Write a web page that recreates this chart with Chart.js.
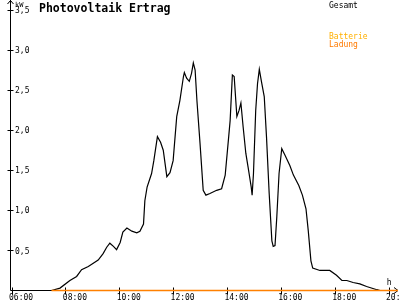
<!DOCTYPE html>
<html><head><meta charset="utf-8">
<script src="https://cdn.jsdelivr.net/npm/chart.js@4/dist/chart.umd.min.js"></script>
<style>html,body{margin:0;padding:0;background:#fff}#wrap{width:400px;height:300px}</style>
</head><body><div id="wrap"><canvas id="c" width="400" height="300"></canvas></div>
<script>
const title = "Photovoltaik Ertrag";
const unitLabel = "kW";
const xUnitLabel = "h";
const legendLabels = ["Gesamt", "Batterie", "Ladung"];
const xTickValues = ["06:00","08:00","10:00","12:00","14:00","16:00","18:00","20:00"];
const yTickValues = [0.5, 1.0, 1.5, 2.0, 2.5, 3.0, 3.5];
const yTickLabels = ["0,5","1,0","1,5","2,0","2,5","3,0","3,5"];

const gesamtTimes = ["07:28","07:47","08:09","08:24","08:35","08:50","09:12","09:23","09:31","09:38","09:46","09:53","10:01","10:07","10:16","10:27","10:38","10:45","10:53","10:56","11:01","11:11","11:16","11:24","11:31","11:37","11:45","11:52","11:59","12:07","12:14","12:22","12:24","12:29","12:35","12:40","12:44","12:48","12:52","12:59","13:06","13:12","13:21","13:36","13:47","13:55","14:02","14:06","14:11","14:15","14:21","14:26","14:30","14:35","14:41","14:46","14:53","14:55","14:58","15:03","15:07","15:11","15:16","15:22","15:27","15:33","15:39","15:42","15:46","15:50","15:55","16:01","16:08","16:19","16:27","16:39","16:47","16:55","17:00","17:06","17:10","17:26","17:48","18:03","18:15","18:26","18:40","18:55","19:10","19:33","19:40"];
const gesamtValues = [0,0.03,0.125,0.175,0.26,0.30,0.38,0.46,0.54,0.59,0.55,0.51,0.60,0.73,0.78,0.74,0.72,0.74,0.83,1.12,1.29,1.46,1.62,1.92,1.85,1.75,1.42,1.47,1.62,2.17,2.37,2.67,2.72,2.65,2.61,2.71,2.84,2.75,2.37,1.83,1.25,1.19,1.21,1.25,1.27,1.44,1.87,2.12,2.69,2.67,2.17,2.25,2.34,2.04,1.71,1.54,1.29,1.19,1.46,2.25,2.58,2.76,2.60,2.42,1.92,1.21,0.62,0.55,0.56,0.92,1.46,1.77,1.69,1.56,1.44,1.31,1.19,1.02,0.75,0.37,0.28,0.25,0.25,0.19,0.125,0.125,0.10,0.083,0.05,0.01,0];
const ladungTimes = ["07:28","10:00","13:00","16:00","19:00","20:20"];
const ladungValues = [0,0,0,0,0,0];

const toH = s => { const [h,m] = s.split(":").map(Number); return h + m/60; };
const pts = (ts, vs) => ts.map((t,i) => ({x: toH(t), y: vs[i]}));

const FONT = '"DejaVu Sans Mono", monospace';

const axesPlugin = {
  id: 'axes',
  beforeDatasetsDraw(chart) {
    const ctx = chart.ctx, xs = chart.scales.x, ys = chart.scales.y;
    const x0 = Math.floor(xs.left) + 0.5, y0 = Math.floor(ys.getPixelForValue(0)) + 0.5;
    const xr = Math.round(xs.right);
    ctx.save();
    ctx.strokeStyle = '#000'; ctx.lineWidth = 1;
    ctx.beginPath();
    ctx.moveTo(x0, y0); ctx.lineTo(x0, 0);
    ctx.moveTo(x0 - 3, 4); ctx.lineTo(x0, 0.5); ctx.lineTo(x0 + 3, 4);
    ctx.moveTo(x0, y0); ctx.lineTo(xr, y0);
    ctx.moveTo(xr - 4, y0 - 3); ctx.lineTo(xr, y0); ctx.lineTo(xr - 4, y0 + 3);
    yTickValues.forEach(v => {
      const y = Math.floor(ys.getPixelForValue(v)) + 0.5;
      ctx.moveTo(x0 - 3, y); ctx.lineTo(x0 + 3, y);
    });
    xTickValues.forEach(t => {
      const x = Math.floor(xs.getPixelForValue(toH(t))) + 0.5;
      ctx.moveTo(x, y0 - 3); ctx.lineTo(x, y0 + 4);
    });
    ctx.stroke();
    ctx.fillStyle = '#000';
    ctx.font = '8px ' + FONT;
    ctx.textBaseline = 'middle'; ctx.textAlign = 'left';
    yTickValues.forEach((v, i) => {
      const y = ys.getPixelForValue(v);
      ctx.fillText(yTickLabels[i], x0 + 4.5, y + 1);
    });
    ctx.textBaseline = 'alphabetic';
    xTickValues.forEach(t => {
      const x = xs.getPixelForValue(toH(t));
      ctx.fillText(t, x - 3, y0 + 9.5);
    });
    ctx.fillText(xUnitLabel, xs.getPixelForValue(toH("19:55")) , y0 - 6);
    ctx.font = '7px ' + FONT;
    ctx.fillText(unitLabel, x0 + 4.5, 7);
    ctx.font = 'bold 11.5px ' + FONT;
    ctx.fillText(title, 39, 12);
    ctx.font = '8px ' + FONT;
    ctx.fillStyle = '#000'; ctx.fillText(legendLabels[0], 329, 8);
    ctx.fillStyle = '#FFB000'; ctx.fillText(legendLabels[1], 329, 39);
    ctx.fillStyle = '#FF7A00'; ctx.fillText(legendLabels[2], 329, 47);
    ctx.restore();
  }
};

new Chart(document.getElementById('c'), {
  type: 'line',
  data: {
    datasets: [
      { label: legendLabels[2], data: pts(ladungTimes, ladungValues), borderColor: '#FF8000', borderWidth: 1.3, pointRadius: 0, tension: 0, clip: false },
      { label: legendLabels[0], data: pts(gesamtTimes, gesamtValues), borderColor: '#000', borderWidth: 1.2, pointRadius: 0, tension: 0, clip: false }
    ]
  },
  options: {
    responsive: false, animation: false, events: [],
    layout: { padding: { left: 10, right: 2, top: 10, bottom: 9.5 } },
    plugins: { legend: { display: false }, title: { display: false }, tooltip: { enabled: false } },
    scales: {
      x: { type: 'linear', display: false, min: 6 - 2/26.93, max: 6 + 386/26.93 },
      y: { type: 'linear', display: false, min: 0, max: 3.5 }
    }
  },
  plugins: [axesPlugin]
});
</script></body></html>
